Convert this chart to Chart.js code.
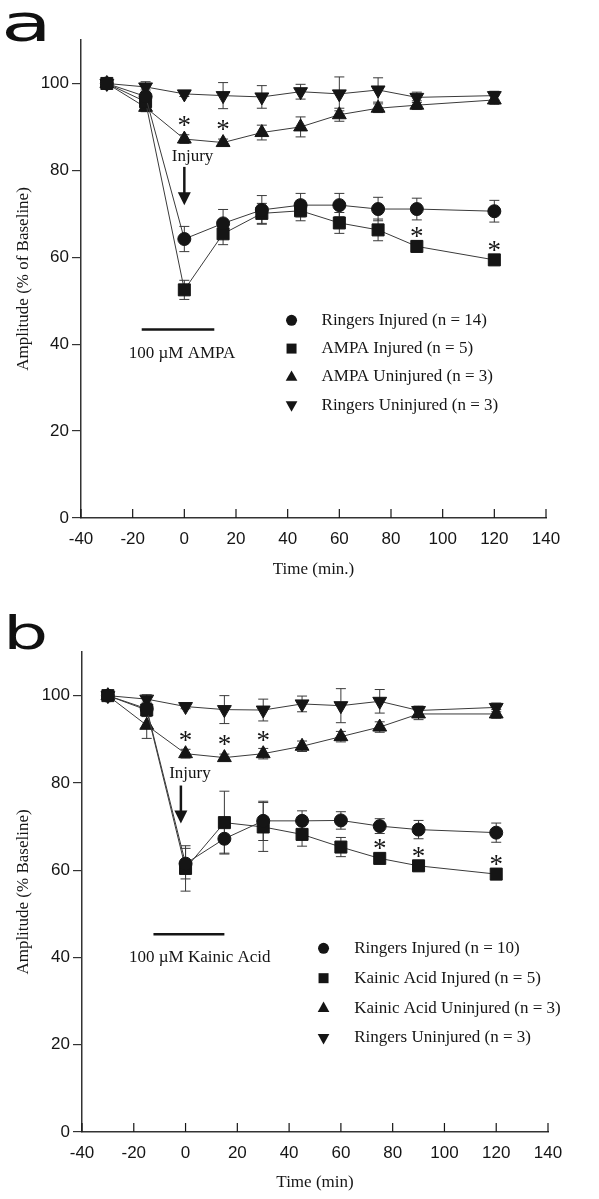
<!DOCTYPE html>
<html>
<head>
<meta charset="utf-8">
<title>Amplitude after injury</title>
<script src="https://cdn.jsdelivr.net/npm/chart.js@4.4.0/dist/chart.umd.min.js"></script>
<style>
    body { margin: 0; background: #fff; width: 599px; height: 1199px; position: relative; overflow: hidden; }
    canvas { position: absolute; left: 0; }
    #chartA { top: 0; }
    #chartB { top: 600px; }
    .letter { position: absolute; font-family: "DejaVu Sans", sans-serif; line-height: 1; color: #111; transform-origin: left top; }
</style>
</head>
<body>
<div class="letter" style="left:1px; top:-3px; font-size:52px; transform:scaleX(1.6);">a</div>
<div class="letter" style="left:3px; top:610px; font-size:46px; transform:scaleX(1.55);">b</div>
<canvas id="chartA" width="599" height="600"></canvas>
<canvas id="chartB" width="599" height="599"></canvas>
<script>
// Time points (min) shared by every series
const timePoints = [-30, -15, 0, 15, 30, 45, 60, 75, 90, 120];

// Panel a - AMPA
const legendA = ['Ringers Injured (n = 14)', 'AMPA Injured (n = 5)', 'AMPA Uninjured (n = 3)', 'Ringers Uninjured (n = 3)'];
const ringersInjuredA = [100, 97.0, 64.2, 67.8, 70.9, 72.0, 72.0, 71.1, 71.1, 70.6];
const ringersInjuredErrA = [0.5, 1.5, 2.9, 3.2, 3.3, 2.7, 2.7, 2.7, 2.5, 2.5];
const ampaInjured = [100, 95.8, 52.5, 65.4, 70.1, 70.7, 67.9, 66.3, 62.5, 59.4];
const ampaInjuredErr = [0.5, 1.5, 2.2, 2.5, 2.3, 2.3, 2.4, 2.5, 1.3, 0.8];
const ampaUninjured = [100, 94.5, 87.2, 86.4, 88.7, 90.0, 92.8, 94.3, 95.0, 96.2];
const ampaUninjuredErr = [0.5, 1.0, 1.0, 0.8, 1.7, 2.3, 1.5, 1.0, 1.0, 1.0];
const ringersUninjuredA = [100, 99.2, 97.6, 97.2, 96.9, 98.1, 97.6, 98.5, 96.8, 97.2];
const ringersUninjuredErrA = [0.5, 1.2, 0.6, 3.0, 2.6, 1.7, 3.9, 2.8, 1.2, 1.0];
// asterisks: [series index, time]
const starsA = [[2, 0], [2, 15], [1, 90], [1, 120]];

// Panel b - Kainic acid
const legendB = ['Ringers Injured (n = 10)', 'Kainic Acid Injured (n = 5)', 'Kainic Acid Uninjured (n = 3)', 'Ringers Uninjured (n = 3)'];
const ringersInjuredB = [100, 97.0, 61.5, 67.2, 71.3, 71.3, 71.4, 70.1, 69.3, 68.6];
const ringersInjuredErrB = [0.5, 1.5, 3.5, 3.3, 4.5, 2.3, 2.0, 1.7, 2.1, 2.2];
const kainicInjured = [100, 96.7, 60.4, 70.9, 69.9, 68.2, 65.3, 62.7, 61.0, 59.1];
const kainicInjuredErr = [0.5, 1.5, 5.2, 7.2, 5.6, 2.7, 2.2, 1.2, 1.2, 1.2];
const kainicUninjured = [100, 93.2, 86.7, 85.8, 86.7, 88.4, 90.6, 92.8, 95.8, 95.8];
const kainicUninjuredErr = [0.5, 3.0, 1.0, 0.8, 1.2, 1.2, 1.2, 1.2, 1.3, 1.0];
const ringersUninjuredB = [100, 99.2, 97.5, 96.8, 96.7, 98.1, 97.7, 98.7, 96.6, 97.3];
const ringersUninjuredErrB = [0.5, 1.0, 0.5, 3.2, 2.5, 1.8, 3.9, 2.7, 1.0, 1.0];
const starsB = [[2, 0], [2, 15], [2, 30], [1, 75], [1, 90], [1, 120]];

const serifFont = 'Liberation Serif';
const sansFont = 'Liberation Sans';
const ink = '#151515';

// marker look for the four groups
const markerStyles = [
    { style: 'circle', rotation: 0, radius: 6.5, legendR: 5.5, starGap: 15 },
    { style: 'rect', rotation: 0, radius: 8.5, legendR: 5, starGap: 14 },
    { style: 'triangle', rotation: 0, radius: 8, legendR: 6.5, starGap: 18 },
    { style: 'triangle', rotation: 180, radius: 8, legendR: 6.5, starGap: 15 }
];

// Draws a legend marker by hand
function drawMarker(ctx, m, x, y) {
    const r = m.legendR;
    ctx.beginPath();
    if (m.style === 'circle') {
        ctx.arc(x, y, r, 0, Math.PI * 2);
    } else if (m.style === 'rect') {
        ctx.rect(x - r, y - r, 2 * r, 2 * r);
    } else {
        const d = m.rotation ? -1 : 1;
        ctx.moveTo(x, y - d * r);
        ctx.lineTo(x + r * 0.9, y + d * r * 0.6);
        ctx.lineTo(x - r * 0.9, y + d * r * 0.6);
        ctx.closePath();
    }
    ctx.fill();
}

// Error bars behind the markers
const errorBars = {
    id: 'errorBars',
    beforeDatasetsDraw(chart) {
        const { ctx, scales: { x, y } } = chart;
        ctx.save();
        ctx.strokeStyle = '#3a3a3a';
        ctx.lineWidth = 1;
        chart.data.datasets.forEach(ds => {
            ds.data.forEach((p, i) => {
                const e = ds.errors[i];
                const px = x.getPixelForValue(p.x);
                const top = y.getPixelForValue(p.y + e);
                const bot = y.getPixelForValue(p.y - e);
                ctx.beginPath();
                ctx.moveTo(px, top); ctx.lineTo(px, bot);
                ctx.moveTo(px - 5, top); ctx.lineTo(px + 5, top);
                ctx.moveTo(px - 5, bot); ctx.lineTo(px + 5, bot);
                ctx.stroke();
            });
        });
        ctx.restore();
    }
};

// Asterisks, injury arrow, drug bar, legend and inward x ticks
const notes = {
    id: 'notes',
    afterDraw(chart, args, opts) {
        const { ctx, chartArea, scales: { x, y } } = chart;
        ctx.save();
        ctx.fillStyle = ink;
        ctx.strokeStyle = ink;

        // inward x ticks
        ctx.lineWidth = 1.2;
        x.ticks.forEach(t => {
            const px = x.getPixelForValue(t.value);
            ctx.beginPath();
            ctx.moveTo(px, chartArea.bottom);
            ctx.lineTo(px, chartArea.bottom - 9);
            ctx.stroke();
        });

        // asterisks (glyph sits high in the em box, so use the baseline)
        ctx.font = `27px "${serifFont}"`;
        ctx.textAlign = 'center';
        ctx.textBaseline = 'alphabetic';
        opts.stars.forEach(([si, t]) => {
            const ds = chart.data.datasets[si];
            const p = ds.data.find(d => d.x === t);
            const cy = y.getPixelForValue(p.y) - markerStyles[si].starGap;
            ctx.fillText('*', x.getPixelForValue(t), cy + 13);
        });

        // injury label + arrow
        const ia = opts.injury;
        ctx.textBaseline = 'middle';
        ctx.font = `17px "${serifFont}"`;
        ctx.fillText('Injury', x.getPixelForValue(ia.textX), y.getPixelForValue(ia.textY));
        const ax = x.getPixelForValue(ia.x);
        const ay1 = y.getPixelForValue(ia.y1);
        const ay2 = y.getPixelForValue(ia.y2);
        ctx.lineWidth = 2.5;
        ctx.beginPath();
        ctx.moveTo(ax, ay1);
        ctx.lineTo(ax, ay2 - 10);
        ctx.stroke();
        ctx.beginPath();
        ctx.moveTo(ax - 6.5, ay2 - 13);
        ctx.lineTo(ax + 6.5, ay2 - 13);
        ctx.lineTo(ax, ay2);
        ctx.closePath();
        ctx.fill();

        // drug application bar
        const db = opts.drug;
        ctx.lineWidth = 2.5;
        ctx.beginPath();
        ctx.moveTo(x.getPixelForValue(db.x1), y.getPixelForValue(db.y));
        ctx.lineTo(x.getPixelForValue(db.x2), y.getPixelForValue(db.y));
        ctx.stroke();
        ctx.fillText(db.label, x.getPixelForValue(db.textX), y.getPixelForValue(db.textY));

        // legend
        const lg = opts.legend;
        const lx = x.getPixelForValue(lg.x);
        let ly = y.getPixelForValue(lg.y);
        ctx.textAlign = 'left';
        chart.data.datasets.forEach((ds, i) => {
            drawMarker(ctx, markerStyles[i], lx, ly);
            ctx.fillText(ds.label, lx + lg.gap, ly);
            ly += lg.step;
        });
        ctx.restore();
    }
};

function makePanel(id, cfg) {
    const datasets = cfg.series.map((vals, i) => ({
        label: cfg.labels[i],
        data: timePoints.map((t, k) => ({ x: t, y: vals[k] })),
        errors: cfg.errors[i],
        borderColor: '#3a3a3a',
        borderWidth: 1,
        pointStyle: markerStyles[i].style,
        pointRotation: markerStyles[i].rotation,
        pointRadius: markerStyles[i].radius,
        pointHoverRadius: markerStyles[i].radius,
        pointBackgroundColor: ink,
        pointBorderColor: ink,
        pointBorderWidth: 1,
        tension: 0,
        clip: false
    }));

    const tickFont = { family: sansFont, size: 17 };
    const titleFont = { family: serifFont, size: 17 };

    return new Chart(document.getElementById(id), {
        type: 'line',
        data: { datasets },
        plugins: [errorBars, notes],
        options: {
            responsive: false,
            animation: false,
            layout: { padding: cfg.padding },
            plugins: {
                legend: { display: false },
                tooltip: { enabled: false },
                notes: cfg.notes
            },
            scales: {
                x: {
                    type: 'linear',
                    min: -40,
                    max: 140,
                    ticks: { stepSize: 20, padding: 11, color: ink, font: tickFont, maxRotation: 0 },
                    grid: { display: true, drawOnChartArea: false, drawTicks: false },
                    border: { display: true, color: '#333', width: 1.5 },
                    title: { display: true, text: cfg.xTitle, color: ink, font: titleFont, padding: { top: 0, bottom: 4 } },
                    afterFit(s) { s.height = cfg.xHeight; }
                },
                y: {
                    type: 'linear',
                    min: 0,
                    max: 110,
                    ticks: { stepSize: 20, includeBounds: false, padding: 3, color: ink, font: tickFont },
                    grid: { display: true, drawOnChartArea: false, drawTicks: true, tickLength: 9, color: '#333', lineWidth: 1.2 },
                    border: { display: true, color: '#333', width: 1.5 },
                    title: { display: true, text: cfg.yTitle, color: ink, font: titleFont, padding: { top: 13, bottom: 0 } },
                    afterFit(s) { s.width = cfg.yWidth; }
                }
            }
        }
    });
}

document.addEventListener('DOMContentLoaded', () => {
    makePanel('chartA', {
        labels: legendA,
        series: [ringersInjuredA, ampaInjured, ampaUninjured, ringersUninjuredA],
        errors: [ringersInjuredErrA, ampaInjuredErr, ampaUninjuredErr, ringersUninjuredErrA],
        xTitle: 'Time (min.)',
        yTitle: 'Amplitude (% of Baseline)',
        padding: { left: 0, right: 53, top: 40, bottom: 16 },
        yWidth: 81,
        xHeight: 66,
        notes: {
            stars: starsA,
            injury: { textX: 3.2, textY: 83.2, x: 0, y1: 80.8, y2: 72 },
            drug: { x1: -16.5, x2: 11.6, y: 43.4, label: '100 µM AMPA', textX: -0.9, textY: 37.9 },
            legend: { x: 41.5, y: 45.5, gap: 30, step: 28.3 }
        }
    });

    makePanel('chartB', {
        labels: legendB,
        series: [ringersInjuredB, kainicInjured, kainicUninjured, ringersUninjuredB],
        errors: [ringersInjuredErrB, kainicInjuredErr, kainicUninjuredErr, ringersUninjuredErrB],
        xTitle: 'Time (min)',
        yTitle: 'Amplitude (% Baseline)',
        padding: { left: 0, right: 51, top: 52, bottom: 2 },
        yWidth: 82,
        xHeight: 65,
        notes: {
            stars: starsB,
            injury: { textX: 1.7, textY: 82.2, x: -1.8, y1: 79.4, y2: 70.7 },
            drug: { x1: -12.4, x2: 15, y: 45.3, label: '100 µM Kainic Acid', textX: 5.5, textY: 39.9 },
            legend: { x: 53.3, y: 42.1, gap: 30.7, step: 29.9 }
        }
    });
});
</script>
</body>
</html>
